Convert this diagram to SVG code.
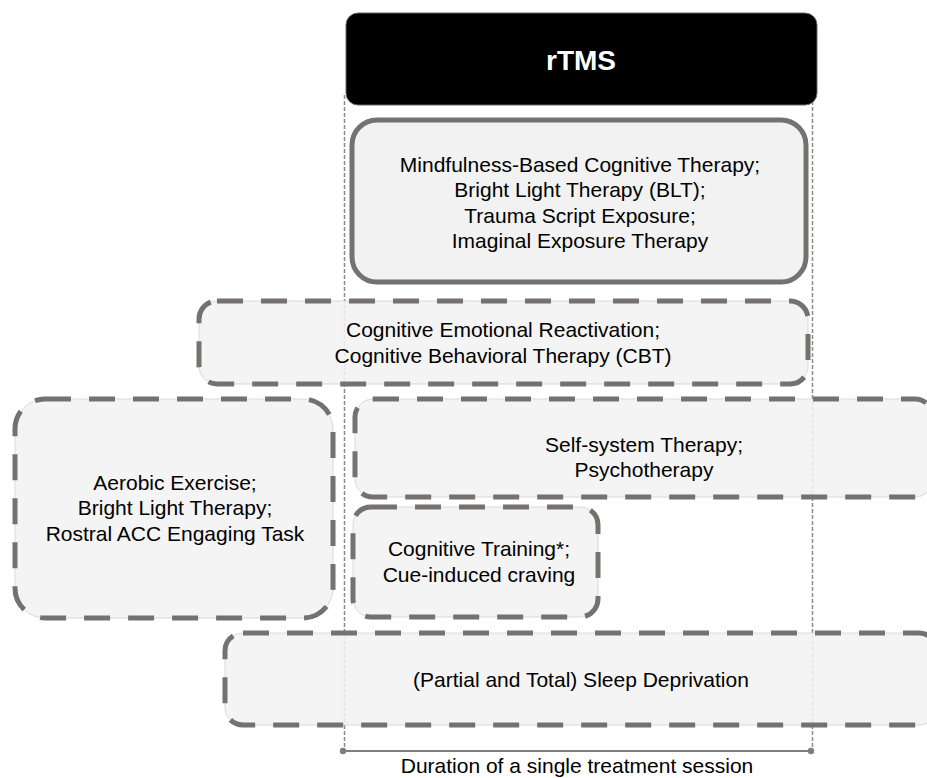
<svg xmlns="http://www.w3.org/2000/svg" width="927" height="778" viewBox="0 0 927 778">
<style>
  .txt { font-family: "Liberation Sans", Arial, sans-serif; font-size: 21px; fill: #000; text-anchor: middle; }
  .title { font-family: "Liberation Sans", Arial, sans-serif; font-size: 28px; font-weight: bold; fill: #fff; text-anchor: middle; }
  .bg { fill: #f2f2f2; fill-opacity: 0.88; stroke: #d9d9d9; stroke-width: 1; }
  .dash { fill: none; stroke: #767171; stroke-width: 5; stroke-dasharray: 26 18; }
  .solid { fill: #f2f2f2; stroke: #767171; stroke-width: 5; }
  .guide { stroke: #8a8a8a; stroke-width: 1.5; stroke-dasharray: 4 2; fill: none; }
  .span { stroke: #7f7f7f; stroke-width: 2; fill: none; }
  .dot { fill: #7f7f7f; }
</style>
<rect width="927" height="778" fill="#fff"/>
<g id="connectors">
  <line class="guide" x1="344.5" y1="95" x2="344.5" y2="751"/>
  <line class="guide" x1="812.5" y1="95" x2="812.5" y2="751"/>
  <line class="span" x1="343" y1="751" x2="811" y2="751"/>
  <circle class="dot" cx="343" cy="751" r="3.2"/>
  <circle class="dot" cx="811" cy="751" r="3.2"/>
</g>
<g id="rtms">
  <rect x="346" y="13" width="471" height="92" rx="12" fill="#000" stroke="#666" stroke-width="1"/>
  <text class="title" x="581" y="70">rTMS</text>
</g>
<g id="node-mbct">
  <rect class="solid" x="352" y="120" width="454" height="162" rx="25"/>
  <text class="txt" x="580" y="172">Mindfulness-Based Cognitive Therapy;</text>
  <text class="txt" x="580" y="197">Bright Light Therapy (BLT);</text>
  <text class="txt" x="580" y="223">Trauma Script Exposure;</text>
  <text class="txt" x="580" y="248">Imaginal Exposure Therapy</text>
</g>
<g id="node-cbt">
  <rect class="bg" x="199" y="301" width="609" height="83" rx="18"/>
  <rect class="dash" x="199" y="301" width="609" height="83" rx="18"/>
  <text class="txt" x="503" y="337">Cognitive Emotional Reactivation;</text>
  <text class="txt" x="503" y="363">Cognitive Behavioral Therapy (CBT)</text>
</g>
<g id="node-aerobic">
  <rect class="bg" x="15" y="399" width="318" height="219" rx="30"/>
  <rect class="dash" x="15" y="399" width="318" height="219" rx="30"/>
  <text class="txt" x="175" y="490">Aerobic Exercise;</text>
  <text class="txt" x="175" y="515">Bright Light Therapy;</text>
  <text class="txt" x="175" y="541">Rostral ACC Engaging Task</text>
</g>
<g id="node-selfsystem">
  <rect class="bg" x="355" y="399" width="578" height="98" rx="18"/>
  <rect class="dash" x="355" y="399" width="578" height="98" rx="18"/>
  <text class="txt" x="644" y="452">Self-system Therapy;</text>
  <text class="txt" x="644" y="477">Psychotherapy</text>
</g>
<g id="node-cogtraining">
  <rect class="bg" x="353" y="507" width="245" height="110" rx="18"/>
  <rect class="dash" x="353" y="507" width="245" height="110" rx="18"/>
  <text class="txt" x="479" y="556">Cognitive Training*;</text>
  <text class="txt" x="479" y="582">Cue-induced craving</text>
</g>
<g id="node-sleep">
  <rect class="bg" x="225" y="633" width="712" height="92" rx="18"/>
  <rect class="dash" x="225" y="633" width="712" height="92" rx="18"/>
  <text class="txt" x="581" y="687">(Partial and Total) Sleep Deprivation</text>
</g>
<g id="label-duration">
  <text class="txt" x="577" y="773">Duration of a single treatment session</text>
</g>
</svg>
